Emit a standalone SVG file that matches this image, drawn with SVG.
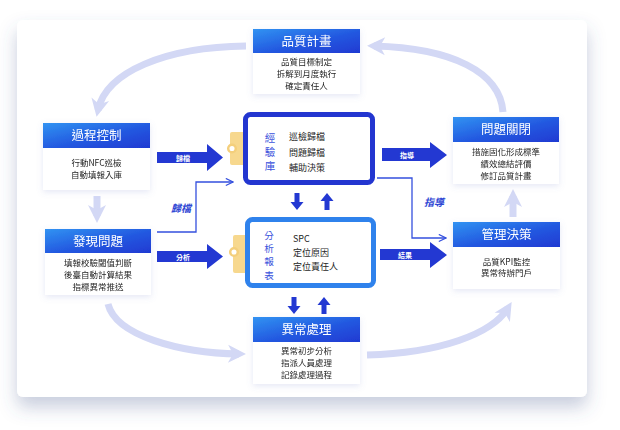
<svg xmlns="http://www.w3.org/2000/svg" width="620" height="430" viewBox="0 0 620 430">
<defs>
<linearGradient id="hg" x1="0" y1="0" x2="1" y2="1">
<stop offset="0" stop-color="#3193f2"/>
<stop offset="0.55" stop-color="#2358e0"/>
<stop offset="1" stop-color="#1f3ad2"/>
</linearGradient>
<filter id="cardShadow" x="-10%" y="-10%" width="120%" height="130%">
<feDropShadow dx="0" dy="10" stdDeviation="9" flood-color="#4a5890" flood-opacity="0.3"/>
</filter>
<filter id="nodeShadow" x="-20%" y="-20%" width="140%" height="150%">
<feDropShadow dx="0" dy="2" stdDeviation="3" flood-color="#6b78c8" flood-opacity="0.18"/>
</filter>
<marker id="lav" viewBox="0 0 20 20" refX="12" refY="10" markerWidth="20" markerHeight="20" markerUnits="userSpaceOnUse" orient="auto">
<path d="M1,1 L19,10 L1,19 L6,10 z" fill="#d3d8f5"/>
</marker>
<marker id="thin" viewBox="0 0 10 10" refX="9" refY="5" markerWidth="9" markerHeight="9" markerUnits="userSpaceOnUse" orient="auto">
<path d="M1,1 L9,5 L1,9" fill="none" stroke="#3550de" stroke-width="1.3"/>
</marker>
<style>
.hdr{fill:url(#hg)}
.body{fill:#ffffff}
.ht{font-family:"Noto Sans CJK TC","Noto Sans",sans-serif;font-size:12.5px;fill:#ffffff;text-anchor:middle}
.bt{font-family:"Noto Sans CJK TC","Noto Sans",sans-serif;font-size:8.5px;fill:#1e1e1e;text-anchor:middle}
.lt{font-family:"Noto Sans CJK TC","Noto Sans",sans-serif;font-size:9px;fill:#1e1e1e}
.vt{font-family:"Noto Sans CJK TC","Noto Sans",sans-serif;font-size:10.5px;fill:#3a52dc;text-anchor:middle}
.vt2{font-family:"Noto Sans CJK TC","Noto Sans",sans-serif;font-size:9.6px;fill:#3a52dc;text-anchor:middle}
.at{font-family:"Noto Sans CJK TC","Noto Sans",sans-serif;font-size:7px;font-weight:bold;fill:#ffffff;text-anchor:middle}
.it{font-family:"Noto Sans CJK TC","Noto Sans",sans-serif;font-size:10px;font-weight:bold;font-style:italic;fill:#2f47d4;text-anchor:middle}
.big{fill:#2338d2}
.lavline{fill:none;stroke:#d3d8f5;stroke-width:7}
.thinline{fill:none;stroke:#3550de;stroke-width:1.3}
.tab{fill:#f7d88e}
.hole{fill:#ffffff;stroke:#f4cf7c;stroke-width:2.5}
</style>
</defs>

<rect x="17" y="20" width="570" height="377" rx="6" fill="#ffffff" filter="url(#cardShadow)"/>

<g id="connectors">
<path class="lavline" d="M246 46 C165 47 106 72 98 110" marker-end="url(#lav)"/>
<path class="lavline" d="M503 112 C500 72 452 48 374 46" marker-end="url(#lav)"/>
<path class="lavline" d="M108 304 C116 336 180 353 239 354" marker-end="url(#lav)"/>
<path class="lavline" d="M367 355 C440 353 492 334 508 308" marker-end="url(#lav)"/>
<path class="lavline" d="M97 196 L97 216" marker-end="url(#lav)"/>
<path class="lavline" d="M513 217 L513 196" marker-end="url(#lav)"/>

<g id="arr-guidang">
<polygon class="big" points="157,152 207,152 207,144 223,157.5 207,171 207,163 157,163"/>
<text class="at" x="183" y="160.5">歸檔</text>
</g>
<g id="arr-fenxi">
<polygon class="big" points="157,251 207,251 207,244 223,256.5 207,269 207,262 157,262"/>
<text class="at" x="183" y="259.5">分析</text>
</g>
<g id="arr-zhidao">
<polygon class="big" points="382,148 430,148 430,142 447,155 430,168 430,161 382,161"/>
<text class="at" x="407" y="158">指導</text>
</g>
<g id="arr-jieguo">
<polygon class="big" points="380,249 430,249 430,242 447,255 430,268 430,260 380,260"/>
<text class="at" x="405" y="257.5">結果</text>
</g>

<polyline class="thinline" points="157,232 196,232 196,182 233,182" marker-end="url(#thin)"/>
<text class="it" x="181" y="212">歸檔</text>
<polyline class="thinline" points="377,178 412,178 412,238 446,238" marker-end="url(#thin)"/>
<text class="it" x="434" y="206">指導</text>

<g id="small-arrows">
<polygon class="big" points="294.5,193 299.5,193 299.5,202 303.5,202 297,210 290.5,202 294.5,202"/>
<polygon class="big" points="324.5,210 329.5,210 329.5,201 333.5,201 327,193 320.5,201 324.5,201"/>
<polygon class="big" points="291.5,297 296.5,297 296.5,306 300.5,306 294,314 287.5,306 291.5,306"/>
<polygon class="big" points="321.5,314 326.5,314 326.5,305 330.5,305 324,297 317.5,305 321.5,305"/>
</g>
</g>

<g id="node-plan" filter="url(#nodeShadow)">
<rect class="body" x="253" y="29" width="107" height="65"/>
<rect class="hdr" x="253" y="29" width="107" height="24"/>
<text class="ht" x="306.5" y="45.5">品質計畫</text>
<text class="bt" x="306.5" y="65">品質目標制定</text>
<text class="bt" x="306.5" y="77">拆解到月度執行</text>
<text class="bt" x="306.5" y="89">確定責任人</text>
</g>

<g id="node-process" filter="url(#nodeShadow)">
<rect class="body" x="43" y="123" width="107" height="67"/>
<rect class="hdr" x="43" y="123" width="107" height="25"/>
<text class="ht" x="96.5" y="140">過程控制</text>
<text class="bt" x="96.5" y="166">行動NFC巡檢</text>
<text class="bt" x="96.5" y="178">自動填報入庫</text>
</g>

<g id="node-find" filter="url(#nodeShadow)">
<rect class="body" x="45" y="229" width="106" height="66"/>
<rect class="hdr" x="45" y="229" width="106" height="24"/>
<text class="ht" x="98" y="245.5">發現問題</text>
<text class="bt" x="98" y="266">填報校驗閾值判斷</text>
<text class="bt" x="98" y="278">後臺自動計算結果</text>
<text class="bt" x="98" y="290">指標異常推送</text>
</g>

<g id="node-close" filter="url(#nodeShadow)">
<rect class="body" x="453" y="117" width="106" height="67"/>
<rect class="hdr" x="453" y="117" width="106" height="25"/>
<text class="ht" x="506" y="134">問題關閉</text>
<text class="bt" x="506" y="155">措施固化形成標準</text>
<text class="bt" x="506" y="167">績效總結評價</text>
<text class="bt" x="506" y="179">修訂品質計畫</text>
</g>

<g id="node-decision" filter="url(#nodeShadow)">
<rect class="body" x="453" y="222" width="107" height="67"/>
<rect class="hdr" x="453" y="222" width="107" height="25"/>
<text class="ht" x="506.5" y="239">管理決策</text>
<text class="bt" x="506.5" y="265">品質KPI監控</text>
<text class="bt" x="506.5" y="276">異常待辦門戶</text>
</g>

<g id="node-handle" filter="url(#nodeShadow)">
<rect class="body" x="253" y="317" width="107" height="67"/>
<rect class="hdr" x="253" y="317" width="107" height="25"/>
<text class="ht" x="306.5" y="334">異常處理</text>
<text class="bt" x="306.5" y="354">異常初步分析</text>
<text class="bt" x="306.5" y="366">指派人員處理</text>
<text class="bt" x="306.5" y="378">記錄處理過程</text>
</g>

<g id="node-knowledge">
<rect class="tab" x="230" y="132" width="17" height="33" rx="2"/>
<circle class="hole" cx="232" cy="148.5" r="3.8"/>
<rect x="245.5" y="114.5" width="127" height="68" rx="5" fill="#ffffff" stroke="#2336d0" stroke-width="5"/>
<text class="vt" x="270" y="142"><tspan x="270" y="142">經</tspan><tspan x="270" y="156">驗</tspan><tspan x="270" y="170">庫</tspan></text>
<text class="lt" x="289" y="139.5">巡檢歸檔</text>
<text class="lt" x="289" y="155.5">問題歸檔</text>
<text class="lt" x="289" y="170.5">輔助決策</text>
</g>

<g id="node-report">
<rect class="tab" x="233" y="235" width="17" height="38" rx="2"/>
<circle class="hole" cx="234" cy="252" r="3.8"/>
<rect x="247.5" y="219.5" width="126" height="66" rx="5" fill="#ffffff" stroke="#2f82ec" stroke-width="5"/>
<text class="vt2" x="269" y="239"><tspan x="269" y="239">分</tspan><tspan x="269" y="252.2">析</tspan><tspan x="269" y="265.4">報</tspan><tspan x="269" y="278.6">表</tspan></text>
<text class="lt" x="293" y="241.5">SPC</text>
<text class="lt" x="293" y="255.5">定位原因</text>
<text class="lt" x="293" y="270">定位責任人</text>
</g>
</svg>
